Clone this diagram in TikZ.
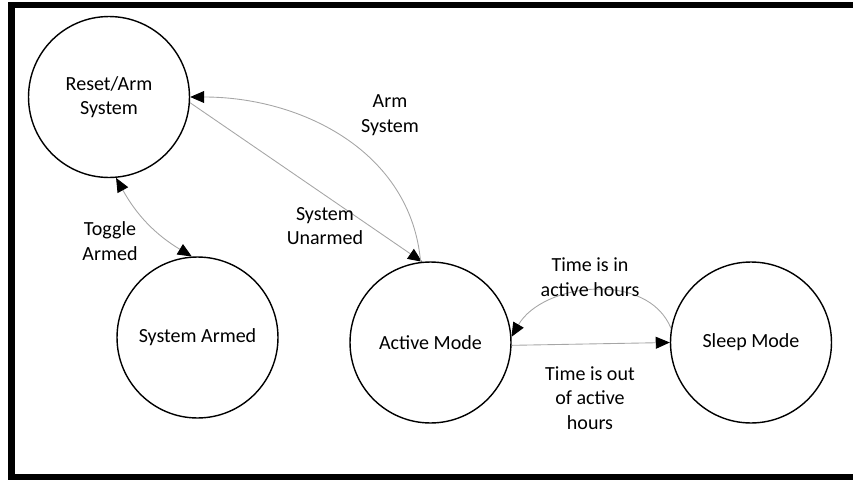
\documentclass[tikz,border=0pt]{standalone}
\usepackage{fontspec}
\setmainfont{Carlito}
\usetikzlibrary{arrows.meta}

\begin{document}
\begin{tikzpicture}[x=0.02cm,y=0.02cm,
  >={Triangle[length=8pt,width=6.8pt,color=black]},
  state/.style={draw,circle,line width=0.8pt,minimum size=3.22cm,inner sep=0pt,align=center,font=\fontsize{11.4}{14}\selectfont},
  lbl/.style={align=center,font=\fontsize{11.4}{14}\selectfont},
  link/.style={draw=gray!70,line width=0.5pt,->}]
\useasboundingbox (0,0) rectangle (853,-480);
% frame
\draw[line width=3.8pt] (11.5,-5) rectangle (862,-477);

% states
\node[state] (reset) at (109,-97) {Reset/Arm\\System};
\node[state] (armed) at (197.5,-337.5) {System Armed};
\node[state] (active) at (430.5,-342.5) {Active Mode};
\node[state] (sleep) at (751,-342.5) {Sleep Mode};

% transitions
\draw[link,<->] (reset.-85) to[bend right=15] (armed.94);
\draw[link] (reset.-4) -- (active.96);
\draw[link] (active.97) to[out=95,in=0] (reset.east);
\draw[link] (sleep.170) to[out=112,in=60] (active.4);
\draw[link] (active.-2) -- (sleep.west);

% labels
\node[lbl] (ltoggle) at (110,-241) {Toggle\\Armed};
\node[lbl] (larm) at (390,-115) {Arm\\System};
\node[lbl] (lunarmed) at (325,-226) {System\\Unarmed};
\node[lbl] (lin) at (590,-277) {Time is in\\active hours};
\node[lbl] (lout) at (590,-398) {Time is out\\of active\\hours};
\end{tikzpicture}
\end{document}
